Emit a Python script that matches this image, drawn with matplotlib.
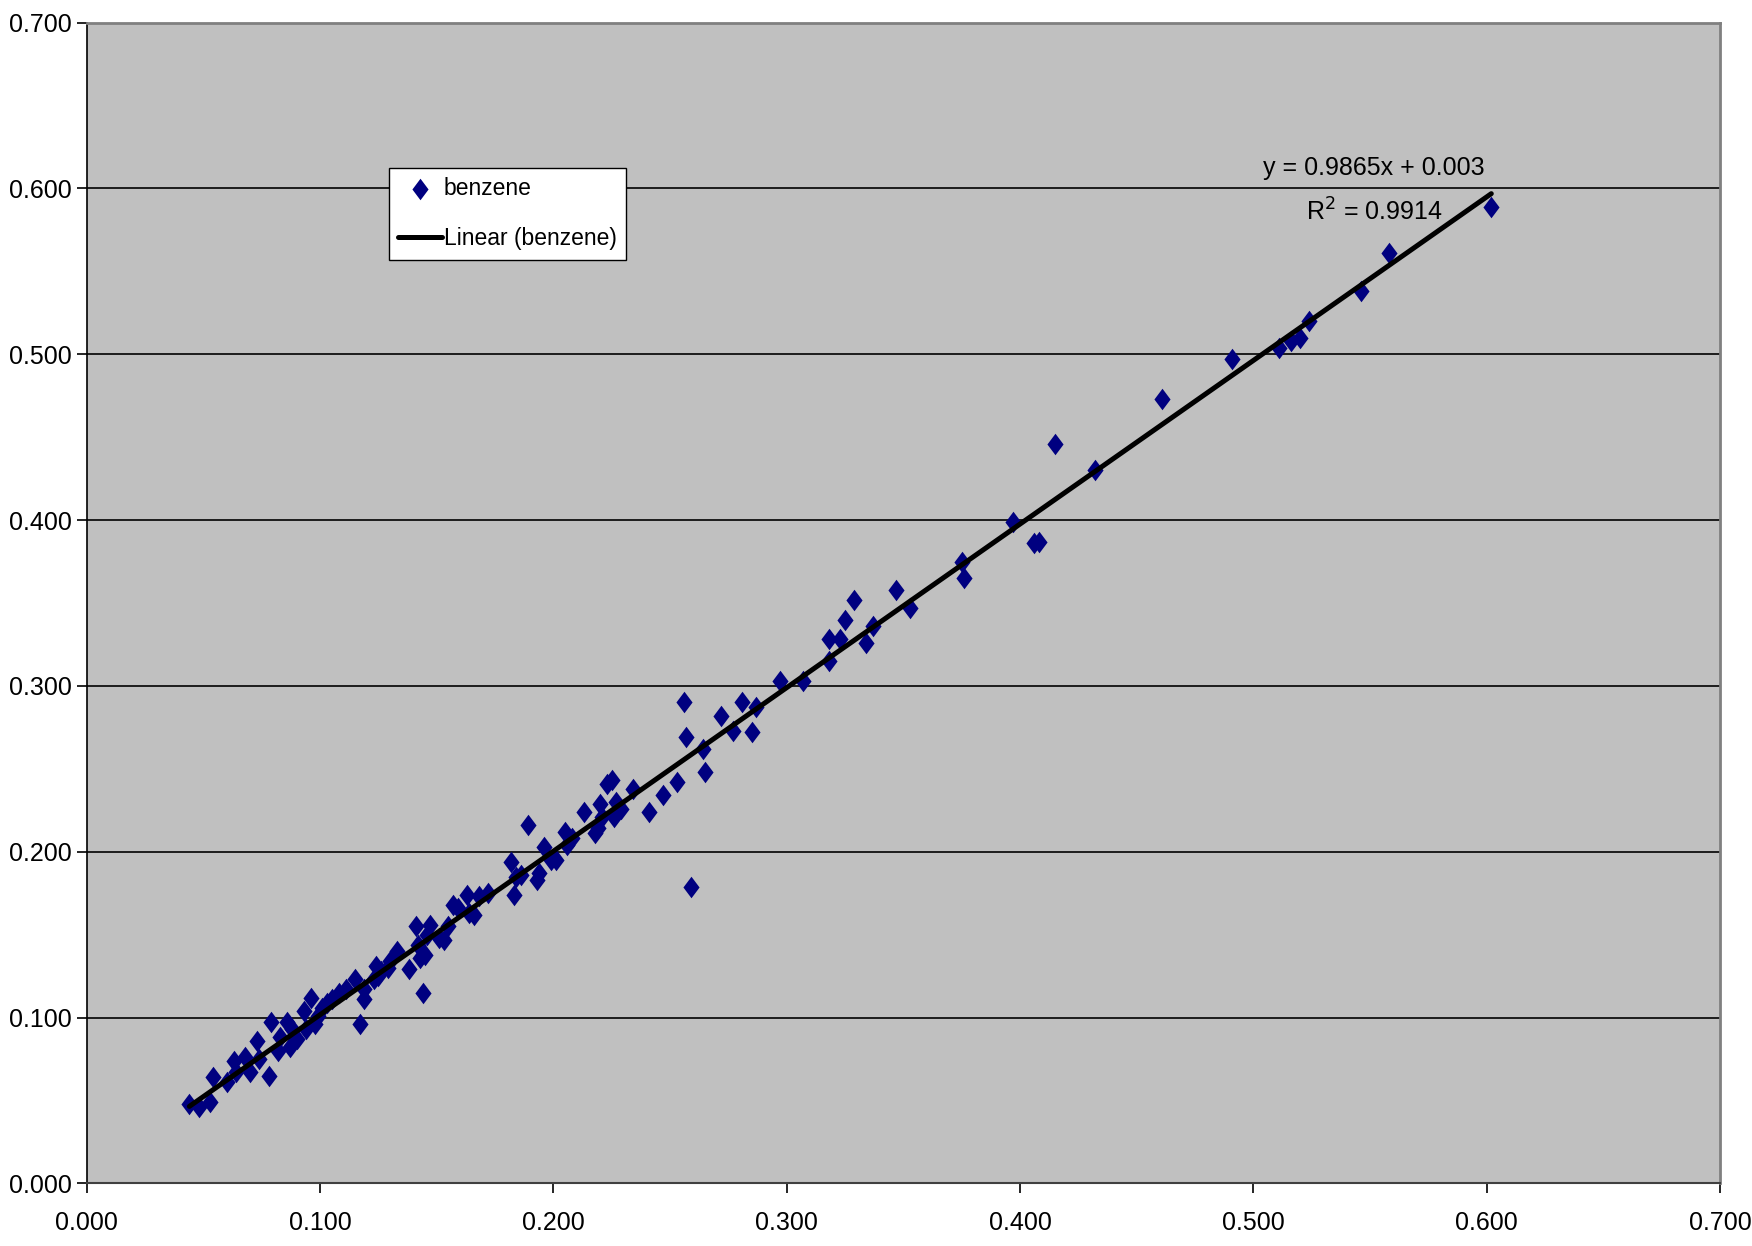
import matplotlib
matplotlib.use("Agg")
import matplotlib.pyplot as plt
import numpy as np

plt.rcParams["font.family"] = ["Liberation Sans", "DejaVu Sans"]

bx = [0.044, 0.048, 0.053, 0.054, 0.060, 0.063, 0.064, 0.068, 0.070, 0.073,
      0.074, 0.078, 0.079, 0.082, 0.083, 0.086, 0.087, 0.088, 0.090, 0.093,
      0.094, 0.096, 0.098, 0.099, 0.101, 0.103, 0.105, 0.108, 0.111, 0.115,
      0.117, 0.119, 0.119, 0.123, 0.124, 0.125, 0.126, 0.129, 0.130, 0.133,
      0.138, 0.141, 0.142, 0.143, 0.144, 0.145, 0.146, 0.147, 0.151, 0.153,
      0.155, 0.157, 0.159, 0.163, 0.164, 0.166, 0.168, 0.172, 0.182, 0.183,
      0.184, 0.186, 0.189, 0.193, 0.194, 0.196, 0.199, 0.201, 0.205, 0.206,
      0.208, 0.213, 0.218, 0.219, 0.220, 0.221, 0.223, 0.225, 0.226, 0.227,
      0.229, 0.234, 0.241, 0.247, 0.253, 0.256, 0.257, 0.259, 0.264, 0.265,
      0.272, 0.277, 0.281, 0.285, 0.287, 0.297, 0.307, 0.318, 0.318, 0.323,
      0.325, 0.329, 0.334, 0.337, 0.347, 0.353, 0.375, 0.376, 0.397, 0.406,
      0.408, 0.415, 0.432, 0.461, 0.491, 0.511, 0.516, 0.520, 0.524, 0.546,
      0.558, 0.602]
by = [0.048, 0.046, 0.049, 0.064, 0.061, 0.074, 0.067, 0.076, 0.067, 0.086,
      0.075, 0.065, 0.097, 0.080, 0.088, 0.097, 0.082, 0.093, 0.087, 0.104,
      0.093, 0.112, 0.096, 0.101, 0.106, 0.109, 0.111, 0.115, 0.117, 0.123,
      0.096, 0.117, 0.111, 0.123, 0.131, 0.125, 0.128, 0.130, 0.134, 0.140,
      0.129, 0.155, 0.144, 0.136, 0.115, 0.138, 0.150, 0.156, 0.148, 0.147,
      0.155, 0.168, 0.166, 0.174, 0.163, 0.162, 0.173, 0.175, 0.194, 0.174,
      0.185, 0.186, 0.216, 0.183, 0.187, 0.203, 0.195, 0.195, 0.212, 0.204,
      0.208, 0.224, 0.211, 0.214, 0.229, 0.221, 0.241, 0.243, 0.221, 0.230,
      0.226, 0.238, 0.224, 0.234, 0.242, 0.290, 0.269, 0.179, 0.262, 0.248,
      0.282, 0.273, 0.290, 0.272, 0.287, 0.303, 0.303, 0.315, 0.328, 0.328,
      0.340, 0.352, 0.326, 0.336, 0.358, 0.347, 0.375, 0.365, 0.399, 0.386,
      0.387, 0.446, 0.430, 0.473, 0.497, 0.504, 0.508, 0.510, 0.520, 0.538,
      0.561, 0.589]

slope = 0.9865
intercept = 0.003
r2 = 0.9914

ticks = [0.0, 0.1, 0.2, 0.3, 0.4, 0.5, 0.6, 0.7]

fig = plt.figure(figsize=(17.52, 12.46), dpi=100)
ax = fig.add_axes([0.0495, 0.0503, 0.9322, 0.9315])
ax.set_facecolor("#c0c0c0")

# excel-style diamond, a bit taller than wide
diamond = [(0, 1), (0.75, 0), (0, -1), (-0.75, 0), (0, 1)]
ax.scatter(bx, by, marker=diamond, s=15.5**2, color="#000080",
           linewidths=0, zorder=3, label="benzene")

xs = np.array([min(bx), max(bx)])
ax.plot(xs, slope*xs + intercept, color="black", lw=3.6, zorder=4,
        label="Linear (benzene)", solid_capstyle="round")

ax.set_xlim(0, 0.7)
ax.set_ylim(0, 0.7)
ax.set_xticks(ticks)
ax.set_yticks(ticks)
ax.set_xticklabels([f"{t:.3f}" for t in ticks])
ax.set_yticklabels([f"{t:.3f}" for t in ticks])
ax.tick_params(axis="both", labelsize=18, direction="out", length=7,
               width=1.2, colors="black")
ax.tick_params(axis="x", pad=13)
ax.tick_params(axis="y", pad=4)
ax.yaxis.grid(True, color="black", lw=1.2)
ax.set_axisbelow(True)

ax.spines["left"].set_color("black")
ax.spines["left"].set_linewidth(1.2)
ax.spines["bottom"].set_color("#404040")
ax.spines["bottom"].set_linewidth(1.5)
for s in ["top", "right"]:
    ax.spines[s].set_color("#808080")
    ax.spines[s].set_linewidth(2)

ax.text(0.5518, 0.6124, f"y = {slope}x + {intercept}", ha="center",
        va="center", fontsize=18)
ax.text(0.5518, 0.5858, f"R$^2$ = {r2}", ha="center", va="center",
        fontsize=18)

leg = ax.legend(loc="upper left", bbox_to_anchor=(0.185, 0.875),
                fontsize=16.5, frameon=True, fancybox=False,
                borderaxespad=0, handlelength=1.9, handletextpad=0.1,
                borderpad=0.4, labelspacing=1.2)
leg.get_frame().set_edgecolor("black")
leg.get_frame().set_linewidth(1.0)
leg.get_frame().set_facecolor("white")
leg.get_frame().set_alpha(1)

fig.savefig("out.png", dpi=100, facecolor="white")
